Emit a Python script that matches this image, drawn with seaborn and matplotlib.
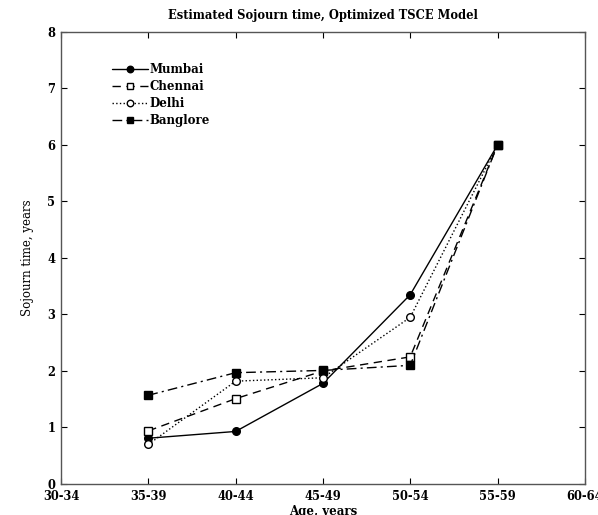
import matplotlib
matplotlib.use("Agg")
import matplotlib.pyplot as plt
import seaborn as sns
import pandas as pd

categories = ["30-34", "35-39", "40-44", "45-49", "50-54", "55-59", "60-64"]
ages = ["35-39", "40-44", "45-49", "50-54", "55-59"]
mumbai = [0.81, 0.93, 1.78, 3.35, 6.0]
chennai = [0.94, 1.51, 2.00, 2.25, 6.0]
delhi = [0.70, 1.82, 1.88, 2.95, 6.0]
banglore = [1.57, 1.97, 2.01, 2.10, 6.0]
y_ticks = [0, 1, 2, 3, 4, 5, 6, 7, 8]

sns.set_theme(style="ticks")
plt.rcParams['font.family'] = ['DejaVu Serif', 'Liberation Serif']
plt.rcParams['text.color'] = 'black'
plt.rcParams['axes.labelcolor'] = 'black'

series = [
    ("Mumbai", mumbai, "-", "o", "black"),
    ("Chennai", chennai, (0, (6, 4)), "s", "white"),
    ("Delhi", delhi, ":", "o", "white"),
    ("Banglore", banglore, (0, (7, 3, 1.5, 3)), "s", "black"),
]

fig = plt.figure(figsize=(5.98, 5.15), dpi=100)
ax = fig.add_axes([0.102, 0.0602, 0.876, 0.8777])

for name, vals, ls, mk, mfc in series:
    df = pd.DataFrame({"x": [categories.index(a) for a in ages], "y": vals})
    sns.lineplot(data=df, x="x", y="y", ax=ax, color="black", linestyle=ls,
                 linewidth=1.0, marker=mk, markersize=5.5, markerfacecolor=mfc,
                 markeredgecolor="black", markeredgewidth=1.0, label=name)

ax.set_xlim(0, len(categories) - 1)
ax.set_ylim(0, 8)
ax.set_xticks(range(len(categories)))
ax.set_xticklabels(categories)
ax.set_yticks(y_ticks)
ax.tick_params(direction="in", top=True, right=True, length=4, width=0.8,
               labelsize=8.3, colors="black", pad=4)
for lab in ax.get_xticklabels() + ax.get_yticklabels():
    lab.set_fontweight("bold")
for s in ax.spines.values():
    s.set_color("#555555")
    s.set_linewidth(1.0)

ax.set_xlabel("Age, years", fontsize=8.5, fontweight="bold", labelpad=2, color="black")
ax.set_ylabel("Sojourn time, years", fontsize=8.5, labelpad=10, color="black")
ax.set_title("Estimated Sojourn time, Optimized TSCE Model", fontsize=8.3,
             fontweight="bold", pad=9, color="black")

leg = ax.legend(loc="upper left", bbox_to_anchor=(0.078, 0.955), frameon=False,
                handlelength=3.0, handletextpad=0.15, labelspacing=0.33,
                markerscale=0.85,
                prop={"weight": "bold", "size": 8.5, "family": "DejaVu Serif"})
for t in leg.get_texts():
    t.set_color("black")

fig.savefig("out.png", dpi=100)
